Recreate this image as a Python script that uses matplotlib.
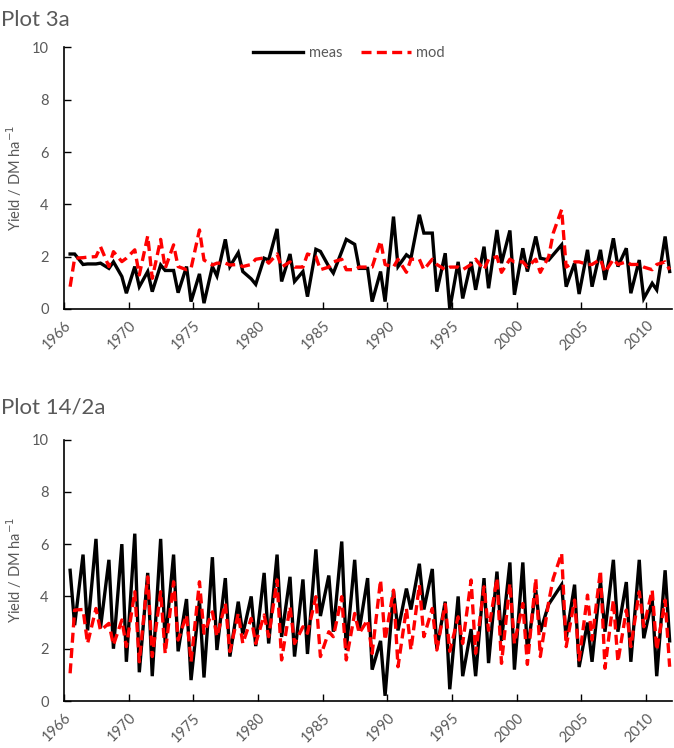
import numpy as np
import matplotlib
matplotlib.use("Agg")
from matplotlib import pyplot as plt

plt.rcParams['font.family'] = ['Lato', 'DejaVu Sans']

# two cuts per year, plotted at year + fraction of the year
years = np.arange(1965, 2012)
cut_offsets = [0.47, 0.82]

top_meas = [2.1, 2.1, 1.7, 1.72, 1.72, 1.75, 1.55, 1.8, 1.24, 0.6,
            1.62, 0.85, 1.43, 0.66, 1.68, 1.47, 1.47, 0.62, 1.62, 0.28,
            1.34, 0.22, 1.62, 1.26, 2.66, 1.62, 2.15, 1.43, 1.15, 0.94,
            1.94, 1.87, 3.06, 1.05, 2.1, 1.05, 1.43, 0.47, 2.28, 2.2,
            1.62, 1.37, 2.2, 2.66, 2.47, 1.55, 1.55, 0.28, 1.43, 0.28,
            3.53, 1.62, 2.07, 1.94, 3.6, 2.9, 2.9, 0.66, 2.13, 0.0,
            1.8, 0.4, 1.8, 0.73, 2.38, 0.79, 3.02, 1.75, 3.0, 0.54,
            2.32, 1.43, 2.77, 1.94, 1.87, np.nan, 2.45, 0.85, 1.75, 0.57,
            2.26, 0.85, 2.26, 1.11, 2.7, 1.62, 2.32, 0.6, 1.87, 0.4,
            0.98, 0.73, 2.77, 1.43]
top_mod = [0.85, 1.94, 1.96, 1.98, 2.0, 2.38, 1.62, 2.19, 1.81, 1.94,
           2.26, 1.3, 2.79, 1.17, 2.66, 1.55, 2.45, 1.62, 1.5, 1.55,
           3.02, 1.87, 1.68, 1.75, 1.75, 1.68, 1.7, 1.62, 1.7, 1.9,
           1.95, 1.75, 2.1, 1.6, 1.8, 1.6, 1.6, 2.1, 2.0, 1.5,
           1.6, 1.8, 1.9, 1.5, 1.5, 1.6, 1.6, 1.6, 2.6, 1.7,
           1.6, 1.9, 1.4, 1.9, 1.9, 1.5, 1.9, 1.7, 1.5, 1.6,
           1.6, 1.5, 1.7, 1.9, 1.5, 1.9, 2.0, 1.4, 1.9, 1.8,
           1.8, 1.6, 1.9, 1.4, 2.0, 2.9, 3.8, 1.6, 1.8, 1.8,
           1.7, 1.7, 1.9, 1.4, 1.9, 1.7, 1.8, 1.7, 1.7, 1.6,
           1.5, 1.7, 1.8, 1.5]

bot_meas = [5.0, 2.9, 5.6, 2.7, 6.2, 2.8, 5.4, 2.0, 6.0, 1.5,
            6.4, 1.1, 4.9, 0.95, 6.2, 2.2, 5.6, 1.9, 3.9, 0.8,
            3.85, 0.9, 5.5, 1.95, 4.7, 1.7, 3.8, 2.55, 4.0, 2.1,
            4.9, 2.2, 5.6, 2.45, 4.75, 1.7, 4.65, 1.8, 5.8, 3.25,
            4.8, 2.65, 6.1, 1.95, 5.4, 2.7, 4.7, 1.2, 2.3, 0.2,
            4.2, 2.7, 4.3, 3.5, 5.25, 3.5, 5.05, 2.0, 3.8, 0.45,
            4.0, 0.95, 2.75, 0.95, 4.7, 1.45, 4.95, 2.3, 5.3, 1.2,
            5.3, 1.9, 4.25, 2.65, 3.7, np.nan, 4.45, 2.4, 4.45, 1.3,
            3.0, 1.5, 4.6, 2.65, 5.4, 2.65, 4.55, 1.5, 5.4, 2.4,
            3.9, 0.95, 5.0, 2.3]
bot_mod = [1.06, 3.48, 3.5, 2.2, 3.54, 2.7, 2.97, 2.14, 3.1, 2.08,
           4.18, 1.5, 4.75, 1.7, 4.18, 1.82, 4.56, 2.33, 3.29, 1.5,
           4.56, 2.59, 3.41, 2.46, 3.73, 1.89, 3.35, 2.2, 3.16, 2.2,
           3.29, 2.46, 4.63, 1.57, 3.61, 2.2, 2.84, 2.59, 3.99, 1.7,
           2.65, 2.46, 3.99, 1.57, 3.35, 2.59, 3.1, 1.82, 4.63, 2.33,
           4.24, 1.31, 3.54, 1.95, 4.44, 2.46, 3.54, 1.95, 3.7, 1.9,
           3.22, 2.2, 4.63, 1.82, 4.37, 2.7, 4.7, 1.44, 4.5, 2.2,
           3.73, 1.4, 4.69, 1.7, 3.8, 4.69, 5.65, 2.08, 3.86, 1.57,
           4.05, 2.33, 5.0, 1.25, 3.86, 1.5, 3.48, 2.08, 4.18, 2.84,
           4.24, 1.95, 3.86, 1.31]

tick_pos = [1965, 1970, 1975, 1980, 1985, 1990, 1995, 2000, 2005, 2010]
tick_labels = ['1966', '1970', '1975', '1980', '1985', '1990', '1995',
               '2000', '2005', '2010']

x_all = np.array([y + o for y in years for o in cut_offsets])

gray = '#595959'
fig = plt.figure(figsize=(6.74, 7.48), dpi=100)
ax1 = fig.add_axes([0.095, 0.587, 0.902, 0.3496])
ax2 = fig.add_axes([0.095, 0.0628, 0.902, 0.3496])


def draw(ax, meas, mod):
    meas = np.array(meas, dtype=float)
    mod = np.array(mod, dtype=float)
    km = ~np.isnan(meas)
    kd = ~np.isnan(mod)
    ax.plot(x_all[km], meas[km], color='black', lw=2.4, label='meas',
            solid_joinstyle='miter')
    ax.plot(x_all[kd], mod[kd], color='#ff0000', lw=2.4, ls=(0, (3, 1.6)),
            label='mod')
    ax.set_xlim(1965, 2012)
    ax.set_ylim(0, 10)
    ax.set_yticks(np.arange(0, 11, 2))
    ax.set_xticks(tick_pos)
    ax.set_xticklabels(tick_labels, rotation=45, ha='right',
                       rotation_mode='anchor')
    ax.tick_params(direction='in', length=5, width=1, colors='black',
                   labelcolor=gray, labelsize=10.5)
    ax.tick_params(axis='x', pad=7)
    ax.tick_params(axis='y', pad=11)
    for s in ['top', 'right']:
        ax.spines[s].set_visible(False)
    for s in ['left', 'bottom']:
        ax.spines[s].set_linewidth(1.2)
    ax.set_ylabel('Yield / DM ha$^{-1}$', color=gray, fontsize=10.5)
    ax.yaxis.set_label_coords(-0.066, 0.5)


draw(ax1, top_meas, top_mod)
draw(ax2, bot_meas, bot_mod)

ax1.legend(loc='center', bbox_to_anchor=(0.469, 0.979), ncol=2,
           frameon=False, fontsize=10.5, handlelength=3.4,
           columnspacing=1.3, handletextpad=0.4, labelcolor=gray)

fig.text(0.002, 1 - 20 / 748, 'Plot 3a', color=gray, fontsize=16,
         va='center', ha='left')
fig.text(0.002, 1 - 408 / 748, 'Plot 14/2a', color=gray, fontsize=16,
         va='center', ha='left')

fig.savefig('out.png', dpi=100)
